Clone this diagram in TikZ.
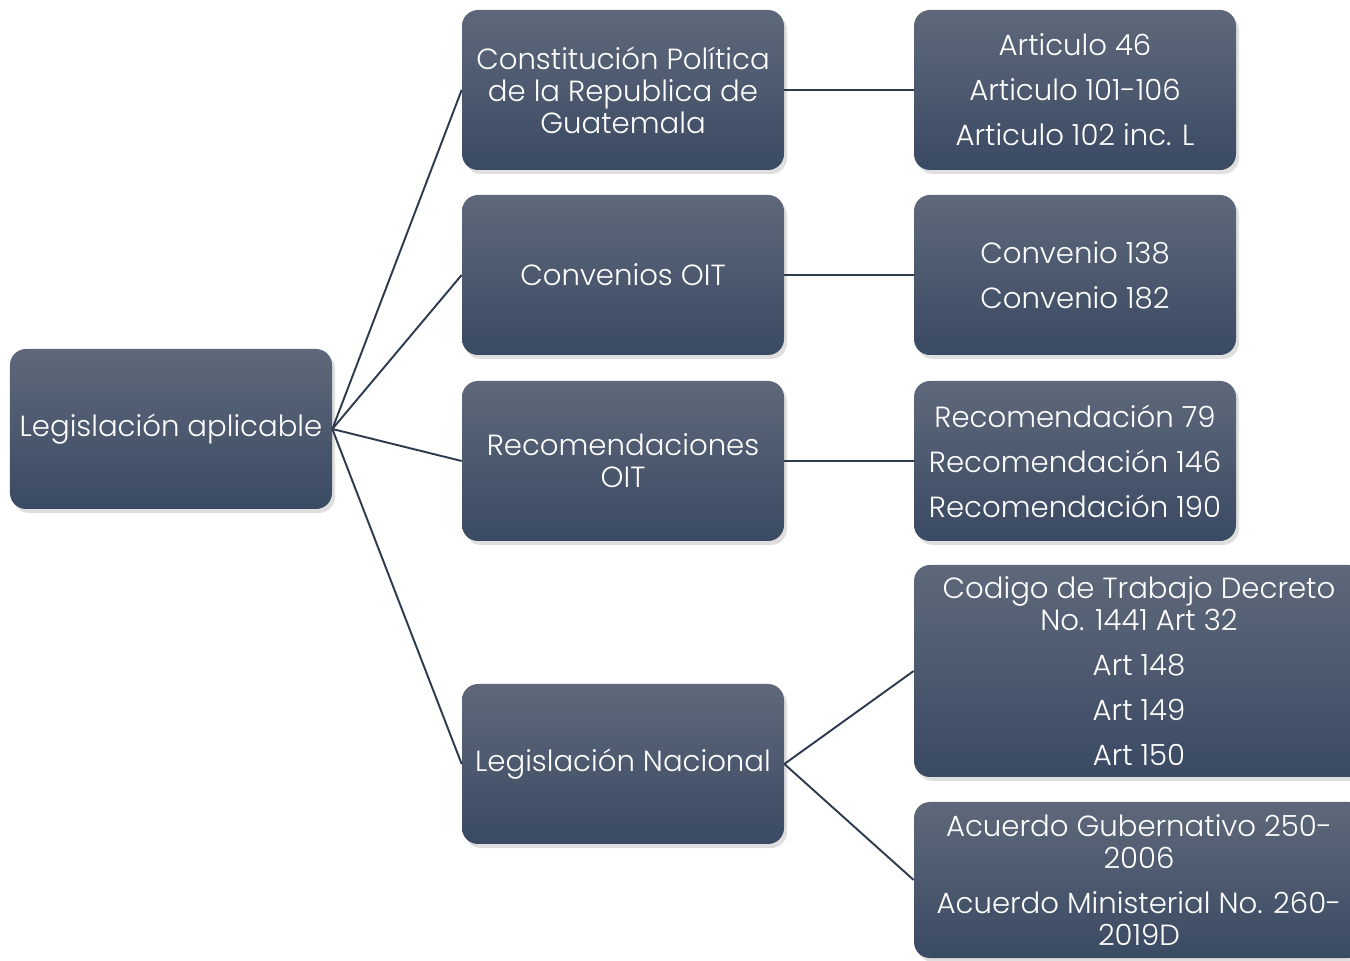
\documentclass[tikz,border=0pt]{standalone}
\usepackage{fontspec}
\setmainfont{Poppins}[UprightFont=* Light]
\usetikzlibrary{shadows}
\definecolor{boxtop}{RGB}{94,104,122}
\definecolor{boxbot}{RGB}{58,74,99}
\definecolor{linkcol}{RGB}{46,59,78}
\newcommand{\gap}{\\[7.4pt]}
\begin{document}
\begin{tikzpicture}[
    box/.style={rounded corners=0.32cm, top color=boxtop, bottom color=boxbot,
      text=white, align=center, inner sep=0pt,
      minimum width=6.44cm, minimum height=3.2cm,
      font=\fontsize{16.6}{18.2}\selectfont,
      drop shadow={shadow xshift=0.06cm, shadow yshift=-0.08cm, opacity=0.25}},
    widebox/.style={box, minimum width=9.0cm},
    link/.style={draw=linkcol, line width=1.1pt}
  ]
%    \draw[black,thin] (0.0,0.0) grid (27.0,19.2);
    \useasboundingbox (0,0) rectangle (27,19.2);
    \clip (0,0) rectangle (27,19.2);

    % root
    \node[box] (root) at (3.42,10.62) {Legislación aplicable};

    % first level
    \node[box] (cpr)  at (12.46,17.4)  {Constitución Política\\de la Republica de\\Guatemala};
    \node[box] (conv) at (12.46,13.7)  {Convenios OIT};
    \node[box] (reco) at (12.46,9.98)  {Recomendaciones\\OIT};
    \node[box] (nac)  at (12.46,3.92)  {Legislación Nacional};

    % second level
    \node[box] (art)  at (21.5,17.4)  {Articulo 46\gap Articulo 101-106\gap Articulo 102 inc. L};
    \node[box] (cnum) at (21.5,13.7)  {Convenio 138\gap Convenio 182};
    \node[box] (rnum) at (21.5,9.98)  {Recomendación 79\gap Recomendación 146\gap Recomendación 190};
    \node[widebox, minimum height=4.24cm] (cod) at (22.78,5.78)
      {Codigo de Trabajo Decreto\\No. 1441 Art 32\gap Art 148\gap Art 149\gap Art 150};
    \node[widebox, minimum height=3.12cm] (acu) at (22.78,1.6)
      {Acuerdo Gubernativo 250-\\2006\gap Acuerdo Ministerial No. 260-\\2019D};

    % connectors
    \foreach \n in {cpr,conv,reco,nac}
      \draw[link] (root.east) -- (\n.west);
    \draw[link] (cpr.east)  -- (art.west);
    \draw[link] (conv.east) -- (cnum.west);
    \draw[link] (reco.east) -- (rnum.west);
    \draw[link] (nac.east)  -- (cod.west);
    \draw[link] (nac.east)  -- (acu.west);
\end{tikzpicture}
\end{document}
